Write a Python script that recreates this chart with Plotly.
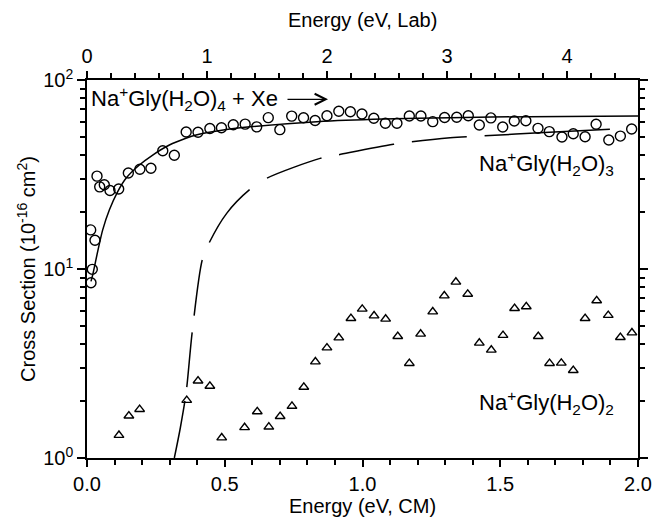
import plotly.graph_objects as go

# ---- data ----
# Na+Gly(H2O)3 product (open circles)
e_h3 = [0.0145, 0.0192, 0.029, 0.0134, 0.0363, 0.0461, 0.0628, 0.0835, 0.115, 0.150,
        0.192, 0.232, 0.275, 0.317, 0.360, 0.403, 0.446, 0.488, 0.531, 0.574,
        0.616, 0.658, 0.700, 0.743, 0.786, 0.828, 0.871, 0.914, 0.956, 0.998,
        1.041, 1.083, 1.125, 1.170, 1.212, 1.255, 1.298, 1.342, 1.384, 1.424,
        1.466, 1.509, 1.551, 1.593, 1.637, 1.678, 1.724, 1.765, 1.808, 1.848,
        1.894, 1.936, 1.977]
s_h3 = [8.46, 9.96, 14.2, 16.1, 31.0, 27.2, 27.9, 26.0, 26.5, 32.2,
        33.7, 34.1, 42.2, 40.0, 53.1, 52.9, 55.4, 55.9, 58.0, 58.4,
        56.5, 63.2, 54.6, 64.4, 63.1, 61.1, 64.7, 68.3, 67.9, 66.1,
        62.8, 59.0, 59.0, 64.5, 64.5, 60.2, 63.3, 63.5, 64.7, 57.8,
        63.0, 56.4, 60.7, 60.9, 55.5, 53.3, 49.9, 52.0, 50.1, 58.3,
        48.1, 50.5, 55.0]

# Na+Gly(H2O)2 product (open triangles)
e_h2 = [0.116, 0.152, 0.191, 0.362, 0.403, 0.446, 0.489, 0.572, 0.618, 0.660,
        0.701, 0.744, 0.787, 0.829, 0.871, 0.914, 0.958, 0.999, 1.042, 1.084,
        1.128, 1.170, 1.211, 1.255, 1.297, 1.339, 1.382, 1.424, 1.4675, 1.510,
        1.552, 1.5945, 1.638, 1.679, 1.7216, 1.765, 1.808, 1.850, 1.892, 1.936,
        1.978]
s_h2 = [1.32, 1.67, 1.81, 2.02, 2.56, 2.40, 1.28, 1.45, 1.76, 1.46,
        1.66, 1.88, 2.37, 3.23, 3.83, 4.33, 5.48, 6.14, 5.66, 5.44,
        4.40, 3.17, 4.53, 5.94, 7.22, 8.54, 7.37, 4.06, 3.73, 4.46,
        6.19, 6.32, 4.40, 3.17, 3.18, 2.91, 5.48, 6.80, 5.69, 4.35,
        4.60]

# model curve for Na+Gly(H2O)3 (solid)
fit_e = [0.0145, 0.0206, 0.0387, 0.057, 0.081, 0.111, 0.1416, 0.19, 0.2385, 0.299,
         0.359, 0.396, 0.5, 0.592, 0.834, 1.075, 1.318, 1.6, 2.0]
fit_s = [8.6, 9.3, 12.35, 16.1, 20.5, 25.6, 30.2, 35.5, 40.1, 45.3,
         49.2, 51.2, 54.5, 56.5, 60.2, 62.2, 63.1, 64.0, 64.5]

# model curve (dashed)
dash_e = [0.317, 0.339, 0.360, 0.382, 0.4185, 0.444, 0.507, 0.589, 0.652, 0.846,
          0.912, 1.112, 1.318, 1.438, 1.66, 1.898]
dash_s = [1.0, 1.45, 2.23, 4.66, 11.2, 13.8, 19.7, 26.2, 30.2, 38.5,
          40.2, 45.7, 49.5, 50.6, 52.7, 54.8]

LAB_FACTOR = 2.295  # E_lab / E_CM
y_tickvals = [1, 10, 100]
y_ticktext = ["10<sup>0</sup>", "10<sup>1</sup>", "10<sup>2</sup>"]
y_minorvals = [2, 3, 4, 5, 6, 7, 8, 9, 20, 30, 40, 50, 60, 70, 80, 90]

FONT = "Liberation Sans, Arial, sans-serif"
FS = 20
FS_ANN = 22

fig = go.Figure()
fig.add_trace(go.Scatter(x=fit_e, y=fit_s, mode="lines",
                         line=dict(color="black", width=1.5, shape="spline", smoothing=0.8),
                         showlegend=False))
fig.add_trace(go.Scatter(x=dash_e, y=dash_s, mode="lines",
                         line=dict(color="black", width=1.5, shape="spline", smoothing=0.8,
                                   dash="58px,14px,55px,17px,56px,19px,67px,21px,58px,18px,56px,18px,55px,18px,130px,200px"),
                         showlegend=False))
fig.add_trace(go.Scatter(x=e_h3, y=s_h3, mode="markers",
                         marker=dict(symbol="circle-open", size=10, color="black",
                                     line=dict(width=1.4, color="black")),
                         showlegend=False))
fig.add_trace(go.Scatter(x=e_h2, y=s_h2, mode="markers",
                         marker=dict(symbol="triangle-up-open", size=8.5, color="black",
                                     line=dict(width=1.4, color="black")),
                         showlegend=False))
# invisible traces so the top (Lab) axis and the right axis are drawn
fig.add_trace(go.Scatter(x=[e * LAB_FACTOR for e in e_h3], y=s_h3, xaxis="x2", mode="markers",
                         marker=dict(opacity=0), hoverinfo="skip", showlegend=False))
fig.add_trace(go.Scatter(x=e_h3, y=s_h3, yaxis="y2", mode="markers",
                         marker=dict(opacity=0), hoverinfo="skip", showlegend=False))

axis_common = dict(showline=True, linecolor="black", linewidth=1.5, showgrid=False,
                   zeroline=False, ticks="outside", tickcolor="black", tickwidth=1.5,
                   automargin=False,
                   tickfont=dict(family=FONT, size=FS, color="black"))
minor_y = dict(tickmode="array", tickvals=y_minorvals, ticks="outside", ticklen=5,
               tickwidth=1.5, tickcolor="black", showgrid=False)

fig.update_layout(
    width=652, height=528,
    margin=dict(l=87, r=14, t=80, b=70),
    paper_bgcolor="white", plot_bgcolor="white",
    font=dict(family=FONT, size=FS, color="black"),
    xaxis=dict(range=[0, 2], dtick=0.5, tickformat=".1f", ticklen=7,
               minor=dict(dtick=0.1, ticks="outside", ticklen=5, tickwidth=1.5, tickcolor="black"),
               title=dict(text="Energy (eV, CM)", standoff=3, font=dict(size=FS)),
               **axis_common),
    xaxis2=dict(range=[0, 2 * LAB_FACTOR], overlaying="x", side="top", anchor="y",
                dtick=1, ticklen=7,
                minor=dict(dtick=0.2, ticks="outside", ticklen=5, tickwidth=1.5, tickcolor="black"),
                **axis_common),
    yaxis=dict(type="log", range=[0, 2], tickvals=y_tickvals, ticktext=y_ticktext,
               ticklen=8, minor=minor_y,
               title=dict(text="Cross Section (10<sup>-16</sup> cm<sup>2</sup>)", standoff=2,
                          font=dict(size=FS)),
               **axis_common),
    yaxis2=dict(type="log", range=[0, 2], overlaying="y", side="right", anchor="x",
                tickvals=y_tickvals, showticklabels=False, ticklen=8, minor=minor_y,
                **axis_common),
    annotations=[
        dict(text="Energy (eV, Lab)", xref="paper", yref="paper", x=0.5, y=1.159,
             xanchor="center", yanchor="middle", showarrow=False,
             font=dict(family=FONT, size=FS)),
        dict(text="Na<sup>+</sup>Gly(H<sub>2</sub>O)<sub>4</sub> + Xe", xref="paper", yref="paper",
             x=0.004, y=0.950, xanchor="left", yanchor="middle", showarrow=False,
             font=dict(family=FONT, size=FS_ANN)),
        dict(text="", xref="x domain", yref="y domain", axref="pixel", ayref="pixel",
             x=0.4374, y=0.949, ax=-42, ay=0, showarrow=True,
             arrowhead=5, arrowsize=1.8, arrowwidth=1.2, arrowcolor="black"),
        dict(text="Na<sup>+</sup>Gly(H<sub>2</sub>O)<sub>3</sub>", xref="paper", yref="paper",
             x=0.708, y=0.780, xanchor="left", yanchor="middle", showarrow=False,
             font=dict(family=FONT, size=FS_ANN)),
        dict(text="Na<sup>+</sup>Gly(H<sub>2</sub>O)<sub>2</sub>", xref="paper", yref="paper",
             x=0.708, y=0.146, xanchor="left", yanchor="middle", showarrow=False,
             font=dict(family=FONT, size=FS_ANN)),
    ],
)

fig.write_html("out.html", config={"displayModeBar": False},
               post_script="document.body.style.margin='0';")
